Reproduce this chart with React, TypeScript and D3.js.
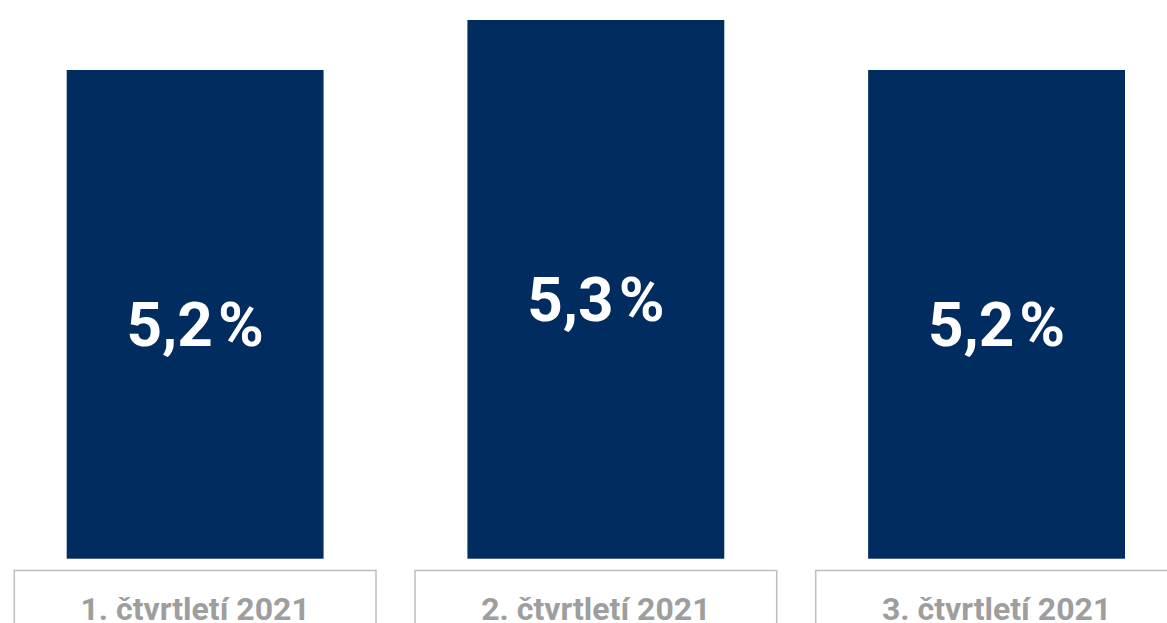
import React, { useEffect, useRef } from 'react';
import * as d3 from 'd3';

const quarters = ['1. čtvrtletí 2021', '2. čtvrtletí 2021', '3. čtvrtletí 2021'];
const rates = [5.2, 5.3, 5.2];
const rateLabels = ['5,2', '5,3', '5,2'];

const App: React.FC = () => {
    const svgRef = useRef<SVGSVGElement | null>(null);

    useEffect(() => {
        const width = 1167;
        const height = 623;
        const baseline = 558.7;

        const svg = d3.select(svgRef.current)
            .attr('width', width)
            .attr('height', height);
        svg.selectAll('*').remove();

        const x = d3.scaleBand<string>()
            .domain(quarters)
            .range([66.7, 1125])
            .paddingInner(0.359)
            .paddingOuter(0);

        // axis doesn't start at zero in the original
        const y = d3.scaleLinear()
            .domain([4.2226, 5.3])
            .range([baseline, 20]);

        const data = quarters.map((q, i) => ({ q, v: rates[i], label: rateLabels[i] }));

        svg.selectAll('rect.bar')
            .data(data)
            .enter()
            .append('rect')
            .attr('class', 'bar')
            .attr('x', (d) => x(d.q) ?? 0)
            .attr('y', (d) => y(d.v))
            .attr('width', x.bandwidth())
            .attr('height', (d) => baseline - y(d.v))
            .attr('fill', '#002c5f');

        const valueText = svg.selectAll('text.value')
            .data(data)
            .enter()
            .append('text')
            .attr('class', 'value')
            .attr('x', (d) => (x(d.q) ?? 0) + x.bandwidth() / 2)
            .attr('y', (d) => (y(d.v) + baseline) / 2 + 32)
            .attr('text-anchor', 'middle')
            .attr('fill', '#ffffff')
            .style('font-family', 'Roboto, sans-serif')
            .style('font-weight', 700)
            .style('font-size', '62px');
        valueText.append('tspan').text((d) => d.label);
        valueText.append('tspan').attr('dx', 5).text('%');

        // category boxes under the bars
        const boxW = 361.7;
        const g = svg.selectAll('g.cat')
            .data(quarters)
            .enter()
            .append('g')
            .attr('class', 'cat')
            .attr('transform', (d) => `translate(${(x(d) ?? 0) + x.bandwidth() / 2},0)`);

        g.append('rect')
            .attr('x', -boxW / 2)
            .attr('y', 570.5)
            .attr('width', boxW)
            .attr('height', 80)
            .attr('fill', '#ffffff')
            .attr('stroke', '#bdbdbd')
            .attr('stroke-width', 1.5);

        g.append('text')
            .attr('x', 0)
            .attr('y', 620)
            .attr('text-anchor', 'middle')
            .attr('fill', '#9e9e9e')
            .style('font-family', 'Roboto, sans-serif')
            .style('font-weight', 700)
            .style('font-size', '32px')
            .text((d) => d);
    }, []);

    return (
        <div style={{ position: 'absolute', left: 0, top: 0 }}>
            <svg ref={svgRef} style={{ display: 'block' }}></svg>
        </div>
    );
};

export default App;
